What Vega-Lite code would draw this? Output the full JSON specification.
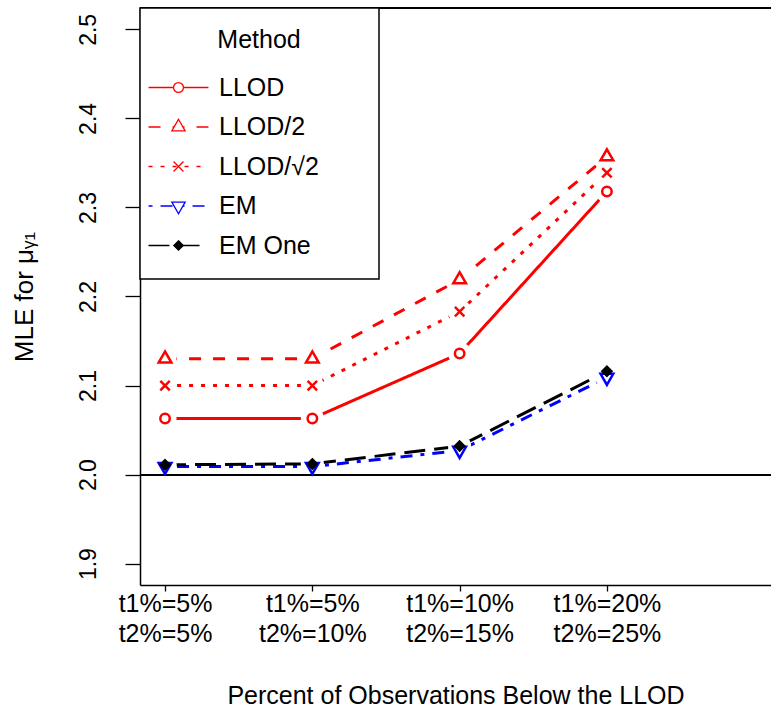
{
  "$schema": "https://vega.github.io/schema/vega-lite/v6.json",
  "width": 631,
  "height": 577,
  "autosize": {"type": "none"},
  "padding": {"left": 140, "top": 8, "right": 0, "bottom": 128},
  "background": "white",
  "config": {
    "view": {"stroke": null},
    "font": "Liberation Sans",
    "axis": {
      "grid": false,
      "domainColor": "black",
      "domainWidth": 1.5,
      "tickColor": "black",
      "tickWidth": 1.3,
      "labelColor": "black",
      "titleColor": "black",
      "labelFont": "Liberation Sans",
      "titleFont": "Liberation Sans",
      "titleFontWeight": "normal"
    },
    "legend": {
      "labelFont": "Liberation Sans",
      "titleFont": "Liberation Sans"
    }
  },
  "data": {
    "values": [
      {"Percent": 1, "Method": "LLOD", "MLE": 2.063},
      {"Percent": 2, "Method": "LLOD", "MLE": 2.063},
      {"Percent": 3, "Method": "LLOD", "MLE": 2.136},
      {"Percent": 4, "Method": "LLOD", "MLE": 2.318},
      {"Percent": 1, "Method": "LLOD/2", "MLE": 2.130},
      {"Percent": 2, "Method": "LLOD/2", "MLE": 2.130},
      {"Percent": 3, "Method": "LLOD/2", "MLE": 2.219},
      {"Percent": 4, "Method": "LLOD/2", "MLE": 2.357},
      {"Percent": 1, "Method": "LLOD/√2", "MLE": 2.100},
      {"Percent": 2, "Method": "LLOD/√2", "MLE": 2.100},
      {"Percent": 3, "Method": "LLOD/√2", "MLE": 2.183},
      {"Percent": 4, "Method": "LLOD/√2", "MLE": 2.339},
      {"Percent": 1, "Method": "EM", "MLE": 2.009},
      {"Percent": 2, "Method": "EM", "MLE": 2.009},
      {"Percent": 3, "Method": "EM", "MLE": 2.027},
      {"Percent": 4, "Method": "EM", "MLE": 2.109},
      {"Percent": 1, "Method": "EM One", "MLE": 2.011},
      {"Percent": 2, "Method": "EM One", "MLE": 2.012},
      {"Percent": 3, "Method": "EM One", "MLE": 2.032},
      {"Percent": 4, "Method": "EM One", "MLE": 2.116}
    ]
  },
  "layer": [
    {
      "mark": {"type": "line", "strokeWidth": 3, "strokeCap": "butt"},
      "encoding": {
        "x": {
          "field": "Percent",
          "type": "quantitative",
          "scale": {"domain": [0.83, 5.114], "nice": false, "zero": false},
          "axis": {
            "values": [1, 2, 3, 4],
            "labelExpr": "[['t1%=5%','t2%=5%'],['t1%=5%','t2%=10%'],['t1%=10%','t2%=15%'],['t1%=20%','t2%=25%']][datum.value-1]",
            "labelFontSize": 25,
            "labelLineHeight": 30,
            "labelFlush": false,
            "labelOverlap": false,
            "labelPadding": 0,
            "tickSize": 6,
            "title": "Percent of Observations Below the LLOD",
            "titleFontSize": 25,
            "titlePadding": 37
          }
        },
        "y": {
          "field": "MLE",
          "type": "quantitative",
          "scale": {"domain": [1.876, 2.524], "nice": false, "zero": false},
          "axis": {
            "values": [1.9, 2.0, 2.1, 2.2, 2.3, 2.4, 2.5],
            "format": ".1f",
            "labelAngle": -90,
            "labelAlign": "center",
            "labelBaseline": "alphabetic",
            "labelFontSize": 23,
            "labelPadding": 30,
            "tickSize": 15,
            "title": "MLE for  μᵧ₁",
            "titleFontSize": 26,
            "titlePadding": 40
          }
        },
        "stroke": {
          "field": "Method",
          "type": "nominal",
          "scale": {
            "domain": ["LLOD", "LLOD/2", "LLOD/√2", "EM", "EM One"],
            "range": ["#FF0000", "#FF0000", "#FF0000", "#0000FF", "#000000"]
          },
          "legend": {
            "orient": "none",
            "legendX": 0,
            "legendY": 0,
            "title": "Method",
            "titleAnchor": "middle",
            "titleFontSize": 25,
            "titleFontWeight": "normal",
            "titleColor": "black",
            "titlePadding": 22,
            "labelFontSize": 25,
            "labelColor": "black",
            "labelOffset": 28,
            "labelExpr": "datum.label + '\u00a0\u00a0\u00a0\u00a0\u00a0\u2009\u200b'",
            "symbolOffset": 6,
            "symbolType": "M-5.45,0H5.45",
            "symbolSize": 121,
            "symbolStrokeWidth": 1.3,
            "rowPadding": 13.5,
            "padding": 20,
            "strokeColor": "black",
            "fillColor": "white",
            "encode": {
              "legend": {"update": {"strokeWidth": {"value": 1.5}}},
              "symbols": {
                "update": {
                  "strokeDash": {"signal": "datum.value == 'LLOD/2' ? [4,4] : datum.value == 'LLOD/√2' ? [1.5,3] : datum.value == 'EM' ? [1.5,3,4,3] : datum.value == 'EM One' ? [7,3] : [100,0]"}
                }
              }
            }
          }
        },
        "strokeDash": {
          "field": "Method",
          "type": "nominal",
          "scale": {
            "domain": ["LLOD", "LLOD/2", "LLOD/√2", "EM", "EM One"],
            "range": [[1, 0], [12, 12], [4, 8], [4, 8, 12, 8], [21, 9]]
          },
          "legend": null
        }
      }
    },
    {
      "mark": {"type": "point", "shape": "circle", "size": 530, "filled": true, "fill": "white", "stroke": null, "opacity": 1},
      "encoding": {
        "x": {"field": "Percent", "type": "quantitative"},
        "y": {"field": "MLE", "type": "quantitative"}
      }
    },
    {
      "mark": {"type": "rule", "color": "black", "strokeWidth": 1.3},
      "encoding": {"y": {"datum": 2.0}}
    },
    {
      "mark": {"type": "rule", "color": "black", "strokeWidth": 1.5},
      "encoding": {"y": {"datum": 2.524}}
    },
    {
      "mark": {"type": "point", "size": 110, "strokeWidth": 2.5, "opacity": 1, "filled": true},
      "encoding": {
        "x": {"field": "Percent", "type": "quantitative"},
        "y": {"field": "MLE", "type": "quantitative"},
        "shape": {
          "field": "Method",
          "type": "nominal",
          "scale": {
            "domain": ["LLOD", "LLOD/2", "LLOD/√2", "EM", "EM One"],
            "range": [
              "M0.9,0A0.9,0.9,0,1,1,-0.9,0A0.9,0.9,0,1,1,0.9,0Z",
              "M0,-1.4L1.21,0.7L-1.21,0.7Z",
              "M-0.9,-0.9L0.9,0.9M-0.9,0.9L0.9,-0.9",
              "M0,1.4L1.21,-0.7L-1.21,-0.7Z",
              "M0,-0.85L0.85,0L0,0.85L-0.85,0Z"
            ]
          },
          "legend": {
            "orient": "none",
            "legendX": 0,
            "legendY": 0,
            "title": "\u200b",
            "titleAnchor": "middle",
            "titleFontSize": 25,
            "titleFontWeight": "normal",
            "titleOpacity": 0,
            "titlePadding": 22,
            "labelFontSize": 25,
            "labelOpacity": 0,
            "labelExpr": "'\u200b'",
            "labelOffset": 28,
            "symbolOffset": 6,
            "symbolSize": 121,
            "symbolStrokeWidth": 1.3,
            "rowPadding": 13.5,
            "padding": 20
          }
        },
        "stroke": {
          "field": "Method",
          "type": "nominal",
          "scale": {
            "domain": ["LLOD", "LLOD/2", "LLOD/√2", "EM", "EM One"],
            "range": ["#FF0000", "#FF0000", "#FF0000", "#0000FF", "#000000"]
          }
        },
        "fill": {
          "field": "Method",
          "type": "nominal",
          "scale": {
            "domain": ["LLOD", "LLOD/2", "LLOD/√2", "EM", "EM One"],
            "range": ["white", "white", "white", "white", "black"]
          }
        }
      }
    }
  ],
  "resolve": {
    "legend": {"stroke": "independent", "strokeDash": "independent", "shape": "independent", "fill": "independent"}
  }
}
